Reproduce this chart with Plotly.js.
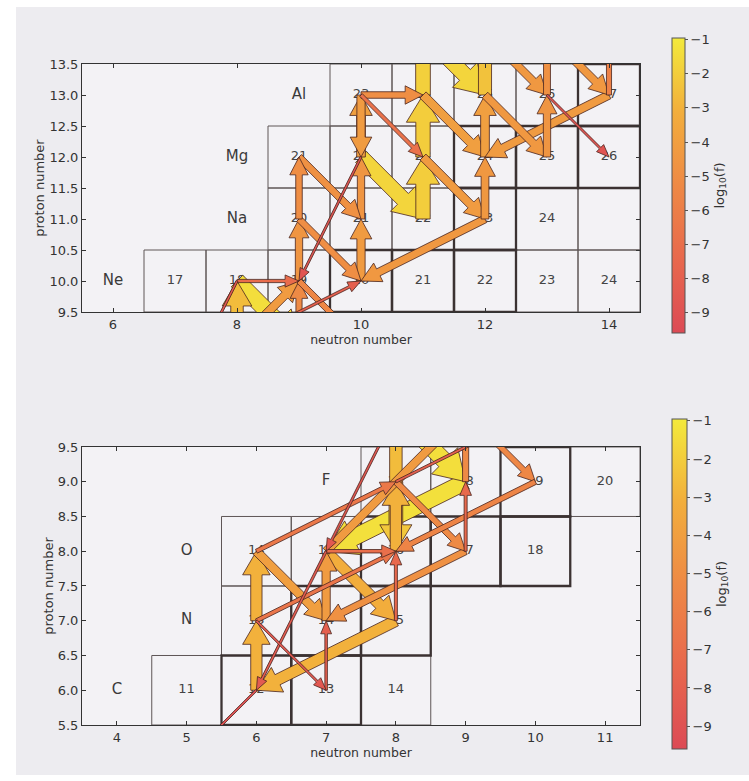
<!DOCTYPE html>
<html><head><meta charset="utf-8">
<script src="https://cdn.plot.ly/plotly-3.0.1.min.js"></script>
<style>html,body{margin:0;padding:0;background:#ffffff;}#chart{position:absolute;left:16px;top:7px;width:733px;height:768px;}</style>
</head><body><div id="chart"></div>
<script>
// ---- reaction flows: from (N,Z) to (N,Z) with log10 of the flow ----
const fromN = [8,8,8,8,7,9,9,9,10,8,9,9,9,10,10,10,10,10,10,10,11,11,11,11,11,12,12,11,12,12,12,12,13,13,13,13,14,14,6,7,6,9,8,8,7,6,8,6,6,6,7,7,9,8,7,6,10,8,9];
const fromZ = [10,10,9,10,8,9,10,10,12,9,11,11,12,10,11,12,13,12,13,13,11,12,13,13,12,11,11,14,13,12,13,14,13,12,13,14,13,13,8,8,6,9,8,9,8,7,7,6,7,8,8,7,8,7,6,7,9,9,8];
const toN   = [9,9,8,7,9,9,10,9,9,10,10,9,10,10,10,10,10,11,11,11,11,11,11,12,12,10,12,12,12,12,13,13,13,13,14,14,14,12,8,6,4,7,8,8,8,8,8,6,6,7,8,7,7,6,7,7,8,9,9];
const toZ   = [10,9,10,8,10,10,9,11,10,10,10,12,11,11,12,13,12,11,13,12,12,13,14,12,11,10,12,13,14,13,12,13,14,13,12,13,14,12,9,6,4,8,9,8,8,8,8,7,8,7,7,8,7,6,7,6,8,8,9];
const logF  = [-7.2,-1.4,-2.6,-8.6,-4.2,-5.2,-5.4,-4.6,-8.8,-8.0,-5.0,-5.0,-4.8,-4.2,-4.6,-4.0,-4.2,-1.7,-5.0,-6.8,-2.0,-2.0,-1.9,-4.0,-4.2,-4.4,-4.4,-1.7,-2.4,-4.0,-4.4,-4.4,-4.8,-4.6,-8.8,-4.4,-5.8,-4.2,-6.4,-8.4,-9.0,-1.3,-3.0,-2.2,-7.0,-6.6,-7.4,-3.0,-3.0,-4.0,-3.2,-4.2,-4.8,-3.0,-8.0,-8.6,-5.6,-5.2,-7.4];
const cRange = [-9.6, -0.95];
const cbTicks = [-1,-2,-3,-4,-5,-6,-7,-8,-9];

// ---- upper panel: nuclide cells ----
const topCellN = [7,8,9,10,11,12,13,14, 9,10,11,12,13,14, 9,10,11,12,13,14, 10,11,12,13,14];
const topCellZ = [10,10,10,10,10,10,10,10, 11,11,11,11,11,11, 12,12,12,12,12,12, 13,13,13,13,13];
const topCellLabel = ['17','18','19','20','21','22','23','24', '20','21','22','23','24','', '21','22','23','24','25','26', '23','24','25','26','27'];
const topCellStable = [0,0,0,1,1,1,0,0, 0,0,0,1,0,0, 0,0,0,1,1,1, 0,0,0,0,1];
const topElem = ['Ne','Na','Mg','Al'];
const topElemN = [6,8,8,9];
const topElemZ = [10,11,12,13];

// ---- lower panel: nuclide cells ----
const botCellN = [5,6,7,8, 6,7,8, 6,7,8,9,10, 8,9,10,11];
const botCellZ = [6,6,6,6, 7,7,7, 8,8,8,8,8, 9,9,9,9];
const botCellLabel = ['11','12','13','14', '13','14','15', '14','15','16','17','18', '17','18','19','20'];
const botCellStable = [0,1,1,0, 0,1,1, 0,0,1,1,1, 0,0,1,0];
const botElem = ['C','N','O','F'];
const botElemN = [4,5,5,7];
const botElemZ = [6,7,8,9];

// ---- styling ----
const FONT = 'DejaVu Sans';
const cscale = [[0,'#dc4a55'],[0.25,'#e8684d'],[0.5,'#ee8945'],[0.75,'#f2ae3c'],[1,'#f3ea3c']];
function hex2rgb(h){return [parseInt(h.substr(1,2),16),parseInt(h.substr(3,2),16),parseInt(h.substr(5,2),16)];}
function colorOf(v){
  let t=(v-cRange[0])/(cRange[1]-cRange[0]); t=Math.max(0,Math.min(1,t));
  for(let i=1;i<cscale.length;i++){
    if(t<=cscale[i][0]){
      const a=hex2rgb(cscale[i-1][1]), b=hex2rgb(cscale[i][1]);
      const f=(t-cscale[i-1][0])/(cscale[i][0]-cscale[i-1][0]);
      return 'rgb('+a.map((c,k)=>Math.round(c+(b[k]-c)*f)).join(',')+')';
    }
  }
  return cscale[cscale.length-1][1];
}
function widthOf(v){const r=(v-cRange[0])/(cRange[1]-cRange[0]);return 2+16*r*r;}

const W=733,H=768,ML=66,MR=109,MT=57,MB=50;
const PW=W-ML-MR, PH=H-MT-MB;
const panels=[
  {xa:'x',ya:'y',xr:[5.5,14.5],yr:[9.5,13.5],dom:[0.6248,1],cells:[topCellN,topCellZ,topCellLabel,topCellStable],elem:[topElem,topElemN,topElemZ],cb:{y:0.8162,len:295,th:13}},
  {xa:'x2',ya:'y2',xr:[3.5,11.5],yr:[5.5,9.5],dom:[0,0.4206],cells:[botCellN,botCellZ,botCellLabel,botCellStable],elem:[botElem,botElemN,botElemZ],cb:{y:0.2133,len:330,th:15}}
];

function arrowPoly(x0,y0,x1,y1,w,sx,sy){
  const X0=x0*sx,Y0=y0*sy,X1=x1*sx,Y1=y1*sy;
  const dx=X1-X0,dy=Y1-Y0,L=Math.hypot(dx,dy);
  const ux=dx/L,uy=dy/L,nx=-uy,ny=ux;
  const hw=1.9*w+6, hl=Math.min(1.2*w+10,0.6*L);
  const bx=X1-ux*hl,by=Y1-uy*hl;
  const p=[[X0+nx*w/2,Y0+ny*w/2],[bx+nx*w/2,by+ny*w/2],[bx+nx*hw/2,by+ny*hw/2],[X1,Y1],
           [bx-nx*hw/2,by-ny*hw/2],[bx-nx*w/2,by-ny*w/2],[X0-nx*w/2,Y0-ny*w/2],[X0+nx*w/2,Y0+ny*w/2]];
  return {x:p.map(q=>q[0]/sx),y:p.map(q=>q[1]/sy)};
}

const traces=[], shapes=[];
const order=logF.map((v,i)=>i).sort((a,b)=>logF[b]-logF[a]);
panels.forEach(P=>{
  const sx=PW/(P.xr[1]-P.xr[0]), sy=PH*(P.dom[1]-P.dom[0])/(P.yr[1]-P.yr[0]);
  const [cn,cz,cl,cs]=P.cells;
  [0,1].forEach(pass=>{
    cn.forEach((n,i)=>{
      if(cs[i]!==pass) return;
      shapes.push({type:'rect',xref:P.xa,yref:P.ya,x0:n-0.5,x1:n+0.5,y0:cz[i]-0.5,y1:cz[i]+0.5,layer:'below',
        line:{color:pass?'#3b3232':'#5e5656',width:pass?2.3:1}});
    });
  });
  const keep=cl.map((t,i)=>i).filter(i=>cl[i]!=='');
  traces.push({type:'scatter',mode:'text',x:keep.map(i=>cn[i]),y:keep.map(i=>cz[i]),text:keep.map(i=>cl[i]),xaxis:P.xa,yaxis:P.ya,hoverinfo:'skip',showlegend:false,
    textfont:{family:FONT,size:13,color:'#444'}});
  traces.push({type:'scatter',mode:'text',x:P.elem[1],y:P.elem[2],text:P.elem[0],xaxis:P.xa,yaxis:P.ya,hoverinfo:'skip',showlegend:false,
    textfont:{family:FONT,size:15,color:'#3a3a3a'}});
  order.forEach(i=>{
    const w=widthOf(logF[i]);
    const poly=arrowPoly(fromN[i],fromZ[i],toN[i],toZ[i],w,sx,sy);
    traces.push({type:'scatter',mode:'lines',x:poly.x,y:poly.y,fill:'toself',fillcolor:colorOf(logF[i]),
      line:{color:'rgba(75,38,32,0.9)',width:0.9},xaxis:P.xa,yaxis:P.ya,hoverinfo:'skip',showlegend:false});
  });
  traces.push({type:'scatter',mode:'markers',x:[null],y:[null],xaxis:P.xa,yaxis:P.ya,showlegend:false,hoverinfo:'skip',
    marker:{color:[cRange[0]],colorscale:cscale,cmin:cRange[0],cmax:cRange[1],showscale:true,
      colorbar:{x:1.0573,xanchor:'left',xpad:0,y:P.cb.y,yanchor:'middle',ypad:0,len:P.cb.len,lenmode:'pixels',
        thickness:P.cb.th,thicknessmode:'pixels',outlinewidth:1,outlinecolor:'#555',
        tickvals:cbTicks,ticks:'outside',ticklen:3,tickcolor:'#555',
        tickfont:{family:FONT,size:13,color:'#333'},
        title:{text:'log<sub>10</sub>(f)',side:'right',font:{family:FONT,size:13,color:'#333'}}}}});
});

function axisBase(){return {showgrid:false,zeroline:false,showline:true,mirror:'ticks',linecolor:'#333',linewidth:1,
  ticks:'inside',ticklen:4,tickcolor:'#333',tickfont:{family:FONT,size:13,color:'#333'}};}
const layout={
  width:W,height:H,margin:{l:ML,r:MR,t:MT,b:MB},
  paper_bgcolor:'#edecf0',plot_bgcolor:'#f3f2f5',showlegend:false,
  xaxis:Object.assign(axisBase(),{domain:[0,1],anchor:'y',range:panels[0].xr,tickvals:[6,8,10,12,14],
    title:{text:'neutron number',standoff:0,font:{family:FONT,size:12.5,color:'#333'}}}),
  yaxis:Object.assign(axisBase(),{domain:panels[0].dom,anchor:'x',range:panels[0].yr,dtick:0.5,tickformat:'.1f',
    title:{text:'proton number',standoff:1,font:{family:FONT,size:13,color:'#333'}}}),
  xaxis2:Object.assign(axisBase(),{domain:[0,1],anchor:'y2',range:panels[1].xr,tickvals:[4,5,6,7,8,9,10,11],
    title:{text:'neutron number',standoff:0,font:{family:FONT,size:12.5,color:'#333'}}}),
  yaxis2:Object.assign(axisBase(),{domain:panels[1].dom,anchor:'x2',range:panels[1].yr,dtick:0.5,tickformat:'.1f',
    title:{text:'proton number',standoff:1,font:{family:FONT,size:13,color:'#333'}}}),
  shapes:shapes
};
Plotly.newPlot('chart',traces,layout,{displayModeBar:false,staticPlot:true});
</script></body></html>
